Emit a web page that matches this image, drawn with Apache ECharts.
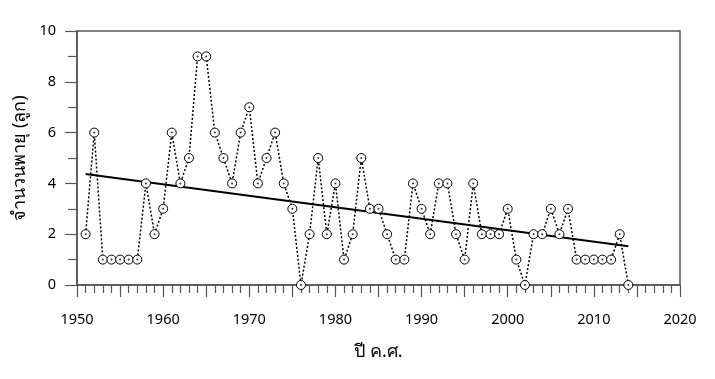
<!DOCTYPE html>
<html>
<head>
<meta charset="utf-8">
<script src="https://cdn.jsdelivr.net/npm/echarts@6/dist/echarts.min.js"></script>
<style>html,body{margin:0;padding:0;background:#fff}#c{width:715px;height:379px}</style>
</head>
<body>
<div id="c"></div>
<script>
const years = [1951,1952,1953,1954,1955,1956,1957,1958,1959,1960,
  1961,1962,1963,1964,1965,1966,1967,1968,1969,1970,
  1971,1972,1973,1974,1975,1976,1977,1978,1979,1980,
  1981,1982,1983,1984,1985,1986,1987,1988,1989,1990,
  1991,1992,1993,1994,1995,1996,1997,1998,1999,2000,
  2001,2002,2003,2004,2005,2006,2007,2008,2009,2010,
  2011,2012,2013,2014];
const storms = [2,6,1,1,1,1,1,4,2,3,
  6,4,5,9,9,6,5,4,6,7,
  4,5,6,4,3,0,2,5,2,4,
  1,2,5,3,3,2,1,1,4,3,
  2,4,4,2,1,4,2,2,2,3,
  1,0,2,2,3,2,3,1,1,1,
  1,1,2,0];
const trendYears = [1951, 2014];
const trendValues = [4.37, 1.53];
const xTitle = 'ปี ค.ศ.';
const yTitle = 'จำนวนพายุ (ลูก)';

const pts = years.map((y, i) => [y, storms[i]]);
const trend = trendYears.map((y, i) => [y, trendValues[i]]);
const font = '"Noto Sans", "DejaVu Sans", sans-serif';
const axisCol = '#555';

const chart = echarts.init(document.getElementById('c'), null, {renderer: 'canvas'});
chart.setOption({
  animation: false,
  backgroundColor: '#fff',
  grid: {left: 77, right: 35, top: 31, bottom: 94, show: true, borderColor: axisCol, borderWidth: 1.5, backgroundColor: 'transparent'},
  xAxis: {
    type: 'value', min: 1950, max: 2020, interval: 5,
    name: xTitle, nameLocation: 'middle', nameGap: 58,
    nameTextStyle: {fontFamily: font, fontSize: 18, color: '#000'},
    axisLine: {show: true, lineStyle: {color: axisCol, width: 1.5}},
    axisTick: {show: true, inside: false, length: 12, lineStyle: {color: axisCol, width: 1.2}},
    minorTick: {show: true, splitNumber: 5, length: 8, lineStyle: {color: axisCol, width: 1.2}},
    axisLabel: {fontFamily: font, fontSize: 14.5, color: '#000', margin: 27,
      formatter: v => (v % 10 === 0 ? String(v) : '')},
    splitLine: {show: false}
  },
  yAxis: {
    type: 'value', min: 0, max: 10, interval: 2,
    name: yTitle, nameLocation: 'middle', nameGap: 47, nameRotate: 90,
    nameTextStyle: {fontFamily: font, fontSize: 18, color: '#000'},
    axisLine: {show: true, lineStyle: {color: axisCol, width: 1.5}},
    axisTick: {show: true, inside: false, length: 12, lineStyle: {color: axisCol, width: 1.2}},
    minorTick: {show: true, splitNumber: 2, length: 9, lineStyle: {color: axisCol, width: 1.2}},
    axisLabel: {fontFamily: font, fontSize: 14.5, color: '#000', margin: 21},
    splitLine: {show: false}
  },
  series: [
    {
      type: 'line', data: trend, symbol: 'none', clip: false,
      lineStyle: {color: '#000', width: 2}, z: 2
    },
    {
      type: 'line', data: pts, clip: false,
      symbol: 'circle', symbolSize: 9, showAllSymbol: true,
      itemStyle: {color: '#fff', borderColor: '#000', borderWidth: 1},
      lineStyle: {color: '#000', width: 1.5, type: [2, 2]}, z: 3
    },
    {
      type: 'scatter', data: pts, symbol: 'circle', symbolSize: 2, clip: false,
      itemStyle: {color: '#000'}, z: 4, silent: true
    }
  ]
});
</script>
</body>
</html>
